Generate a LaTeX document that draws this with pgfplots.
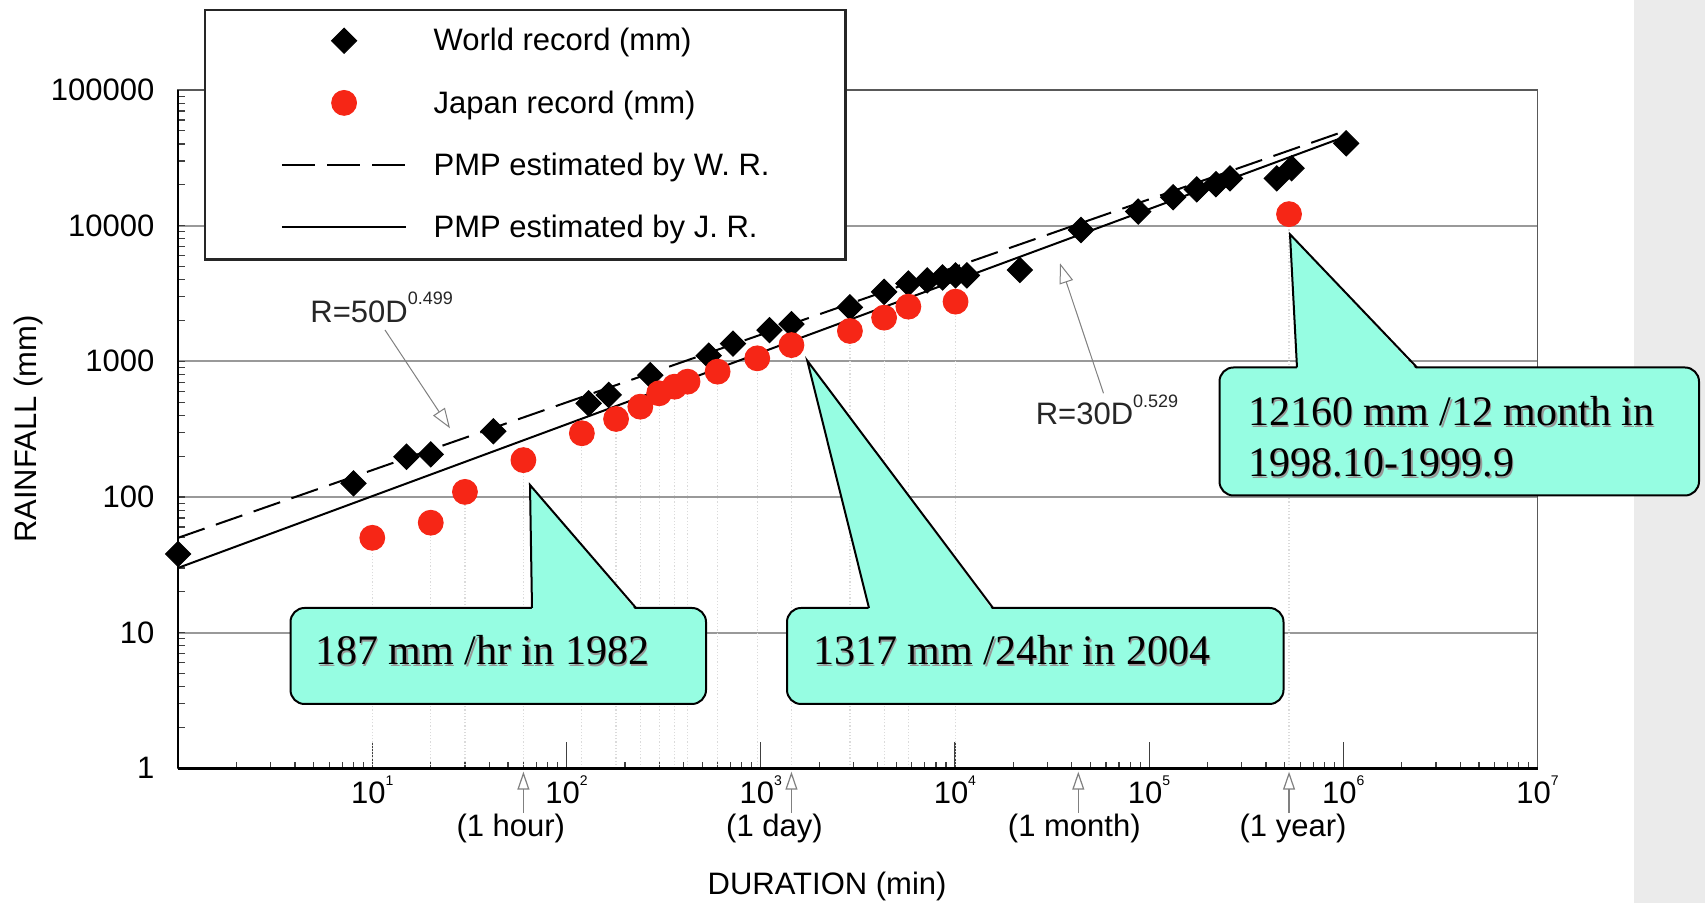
\documentclass[border=0pt]{standalone}
\usepackage{pgfplots}
\pgfplotsset{compat=1.18}
\usepackage{pgfplotstable}
\usepackage{fontspec}
\setmainfont{Liberation Sans}
\newfontfamily\calloutfont{Liberation Serif}
\usetikzlibrary{arrows.meta}
\definecolor{jred}{RGB}{246,38,22}
\definecolor{callout}{RGB}{150,253,226}
\definecolor{panel}{RGB}{235,235,235}
\newcommand{\tsup}[1]{\raisebox{9pt}{\fontsize{7}{7}\selectfont #1}}

\pgfplotstableread{
D R
1 38
8 126
15 198
20 206
42 305
130 490
165 565
270 790
540 1100
720 1350
1110 1700
1440 1880
2880 2500
4320 3250
5760 3750
7200 3950
8640 4150
10080 4300
11520 4300
21600 4710
44600 9290
87900 12700
133000 16200
176000 18500
221000 20200
261000 22300
454000 22300
542000 26500
1035000 40450
}\worlddata

\pgfplotstableread{
D R
10 50
20 64.6
30 109
60 187
120 295
180 376
240 463
300 581
360 650
420 708
600 839
960 1052
1440 1317
2880 1674
4320 2098
5760 2529
10080 2754
525600 12160
}\japandata

\begin{document}
\begin{tikzpicture}
\path[use as bounding box] (0,0) rectangle (852.5pt,451.5pt);
\fill[white] (0,0) rectangle (852.5pt,451.5pt);
\fill[panel] (817pt,0) rectangle (852.5pt,451.5pt);
\begin{axis}[
  at={(89.05pt,67.35pt)}, anchor=south west,
  width=679.7pt, height=339.15pt, scale only axis,
  xmode=log, ymode=log,
  xmin=1, xmax=1e7, ymin=1, ymax=1e5,
  clip=false,
  font=\fontsize{15.5}{18}\selectfont,
  /pgf/number format/assume math mode=true,
  xtick={10,100,1000,10000,100000,1000000,10000000},
  xticklabels={10\tsup{1},10\tsup{2},10\tsup{3},10\tsup{4},10\tsup{5},10\tsup{6},10\tsup{7}},
  ytick={1,10,100,1000,10000,100000},
  yticklabels={1,10,100,1000,10000,100000},
  minor xtick={2,3,4,5,6,7,8,9,20,30,40,50,60,70,80,90,200,300,400,500,600,700,800,900,2000,3000,4000,5000,6000,7000,8000,9000,20000,30000,40000,50000,60000,70000,80000,90000,200000,300000,400000,500000,600000,700000,800000,900000,2000000,3000000,4000000,5000000,6000000,7000000,8000000,9000000},
  minor ytick={2,3,4,5,6,7,8,9,20,30,40,50,60,70,80,90,200,300,400,500,600,700,800,900,2000,3000,4000,5000,6000,7000,8000,9000,20000,30000,40000,50000,60000,70000,80000,90000},
  xticklabel style={inner sep=0pt, yshift=-3.35pt},
  yticklabel style={inner sep=0pt, xshift=-11.65pt},
  tick pos=left,
  xtick style={black!75, line width=0.6pt, /pgfplots/major tick length=13.3pt, /pgfplots/minor tick length=3pt},
  ytick style={black!75, line width=0.6pt, /pgfplots/major tick length=3.5pt, /pgfplots/minor tick length=3.5pt},
  ymajorgrids,
  major grid style={black!40, line width=1pt},
  axis line style={black!65, line width=0.9pt},
  xlabel={DURATION (min)},
  ylabel={RAINFALL (mm)},
  every axis x label/.style={at={([yshift=-63.35pt]axis description cs:0.4774,0)}, anchor=base, inner sep=0pt},
  every axis y label/.style={at={([xshift=-70.55pt]axis description cs:0,0.5)}, rotate=90, anchor=base, inner sep=0pt},
  legend image code/.code={\draw[mark repeat=2,mark phase=2,#1] plot coordinates {(0pt,0.5pt) (31.1pt,0.5pt) (62.25pt,0.5pt)};},
  legend cell align=left,
  legend style={at={(0.01905,1.11898)}, anchor=north west, draw=black!85, line width=1.1pt, fill=white,
    inner xsep=37.9pt, inner ysep=0.8pt, row sep=1.25pt, column sep=13.15pt,
    nodes={inner sep=0pt, text height=19.5pt, text depth=10.3pt},
    font=\fontsize{15.5}{18}\selectfont},
]
\addlegendimage{only marks, mark=square*, mark size=4.45pt, mark options={rotate=45, solid, fill=black, draw=black, line width=0.5pt}}
\addlegendentry{World record (mm)}
\addlegendimage{only marks, mark=*, mark size=6.2pt, mark options={solid, draw=jred, fill=jred, line width=0.5pt}}
\addlegendentry{Japan record (mm)}
\addlegendimage{black, line width=1pt, dash pattern=on 16.5pt off 6.1pt}
\addlegendentry{PMP estimated by W. R.}
\addlegendimage{black, line width=1pt}
\addlegendentry{PMP estimated by J. R.}

\addplot[ycomb, densely dotted, black!14, line width=0.6pt, mark=none, forget plot] table[x=D,y=R]{\japandata};
\addplot[black, line width=1pt, dash pattern=on 14pt off 6pt, forget plot] coordinates {(1,50) (1000000,49316)};
\addplot[black, line width=1pt, forget plot] coordinates {(1,30) (1000000,44785)};
\addplot[only marks, mark=square*, mark size=4.45pt, mark options={rotate=45, solid, fill=black, draw=black, line width=0.5pt}, forget plot] table[x=D,y=R]{\worlddata};
\addplot[only marks, mark=*, mark size=6.2pt, mark options={solid, draw=jred, fill=jred, line width=0.5pt}, forget plot] table[x=D,y=R]{\japandata};

\draw[black, line width=1.4pt] (rel axis cs:0,0) -- (rel axis cs:1,0);
\draw[black, line width=1pt] (rel axis cs:0,0) -- (rel axis cs:0,1);

\draw[gray, line width=0.6pt, -{Triangle[open, length=9pt, width=6pt]}] ([yshift=-22.3pt]axis cs:60,1) -- ([yshift=-1.7pt]axis cs:60,1);
\draw[gray, line width=0.6pt, -{Triangle[open, length=9pt, width=6pt]}] ([yshift=-22.3pt]axis cs:1440,1) -- ([yshift=-1.7pt]axis cs:1440,1);
\draw[gray, line width=0.6pt, -{Triangle[open, length=9pt, width=6pt]}] ([yshift=-22.3pt]axis cs:43200,1) -- ([yshift=-1.7pt]axis cs:43200,1);
\draw[gray, line width=0.6pt, -{Triangle[open, length=9pt, width=6pt]}] ([yshift=-22.3pt]axis cs:525600,1) -- ([yshift=-1.7pt]axis cs:525600,1);
\node[anchor=base, inner sep=0pt] at ([xshift=-6.3pt, yshift=-34.2pt]axis cs:60,1) {(1 hour)};
\node[anchor=base, inner sep=0pt] at ([xshift=-8.5pt, yshift=-34.2pt]axis cs:1440,1) {(1 day)};
\node[anchor=base, inner sep=0pt] at ([xshift=-2pt, yshift=-34.2pt]axis cs:43200,1) {(1 month)};
\node[anchor=base, inner sep=0pt] at ([xshift=2pt, yshift=-34.2pt]axis cs:525600,1) {(1 year)};
\end{axis}

\begin{scope}[x=0.5pt, y=-0.5pt, shift={(0pt,451.5pt)}]
  % formula annotations
  \node[anchor=base west, inner sep=0pt, text=black!85, font=\fontsize{15.5}{18}\selectfont] at (310,322.7) {R=50D\raisebox{8.85pt}{\fontsize{9}{9}\selectfont 0.499}};
  \draw[gray, line width=0.5pt, -{Triangle[open, length=10pt, width=7pt]}] (385,330) -- (450,428.3);
  \node[anchor=base west, inner sep=0pt, text=black!85, font=\fontsize{15.5}{18}\selectfont] at (1035.4,425) {R=30D\raisebox{8.5pt}{\fontsize{9}{9}\selectfont 0.529}};
  \draw[gray, line width=0.5pt, -{Triangle[open, length=10pt, width=7pt]}] (1103.5,393.3) -- (1060,263.3);

  % callout 1
  \filldraw[fill=callout, draw=black, line width=1pt, rounded corners=7pt] (290.5,608) rectangle (706,704);
  \fill[callout] (530,485) -- (532,610.5) -- (636,610.5) -- cycle;
  \draw[black, line width=1pt] (532,608) -- (530,485) -- (636,608);
  \node[anchor=base west, inner sep=0pt, text=black!40, font=\calloutfont\fontsize{21}{25}\selectfont] at (316.4,666.4) {187 mm /hr in 1982};
  \node[anchor=base west, inner sep=0pt, font=\calloutfont\fontsize{21}{25}\selectfont] at (315,665) {187 mm /hr in 1982};

  % callout 2
  \filldraw[fill=callout, draw=black, line width=1pt, rounded corners=7pt] (787,608) rectangle (1283.5,704);
  \fill[callout] (807.3,360.7) -- (869,610.5) -- (993,610.5) -- cycle;
  \draw[black, line width=1pt] (869,608) -- (807.3,360.7) -- (993,608);
  \node[anchor=base west, inner sep=0pt, text=black!40, font=\calloutfont\fontsize{21}{25}\selectfont] at (814.4,666.4) {1317 mm /24hr in 2004};
  \node[anchor=base west, inner sep=0pt, font=\calloutfont\fontsize{21}{25}\selectfont] at (813,665) {1317 mm /24hr in 2004};

  % callout 3
  \filldraw[fill=callout, draw=black, line width=1pt, rounded corners=7pt] (1219.5,367.5) rectangle (1699,495.5);
  \fill[callout] (1290,234.3) -- (1297,370) -- (1417,370) -- cycle;
  \draw[black, line width=1pt] (1297,367.5) -- (1290,234.3) -- (1417,367.5);
  \node[anchor=base west, inner sep=0pt, text=black!40, font=\calloutfont\fontsize{21}{25}\selectfont] at (1249.4,427.4) {12160 mm /12 month in};
  \node[anchor=base west, inner sep=0pt, font=\calloutfont\fontsize{21}{25}\selectfont] at (1248,426) {12160 mm /12 month in};
  \node[anchor=base west, inner sep=0pt, text=black!40, font=\calloutfont\fontsize{21}{25}\selectfont] at (1249.4,478.1) {1998.10-1999.9};
  \node[anchor=base west, inner sep=0pt, font=\calloutfont\fontsize{21}{25}\selectfont] at (1248,476.7) {1998.10-1999.9};
\end{scope}
\end{tikzpicture}
\end{document}
